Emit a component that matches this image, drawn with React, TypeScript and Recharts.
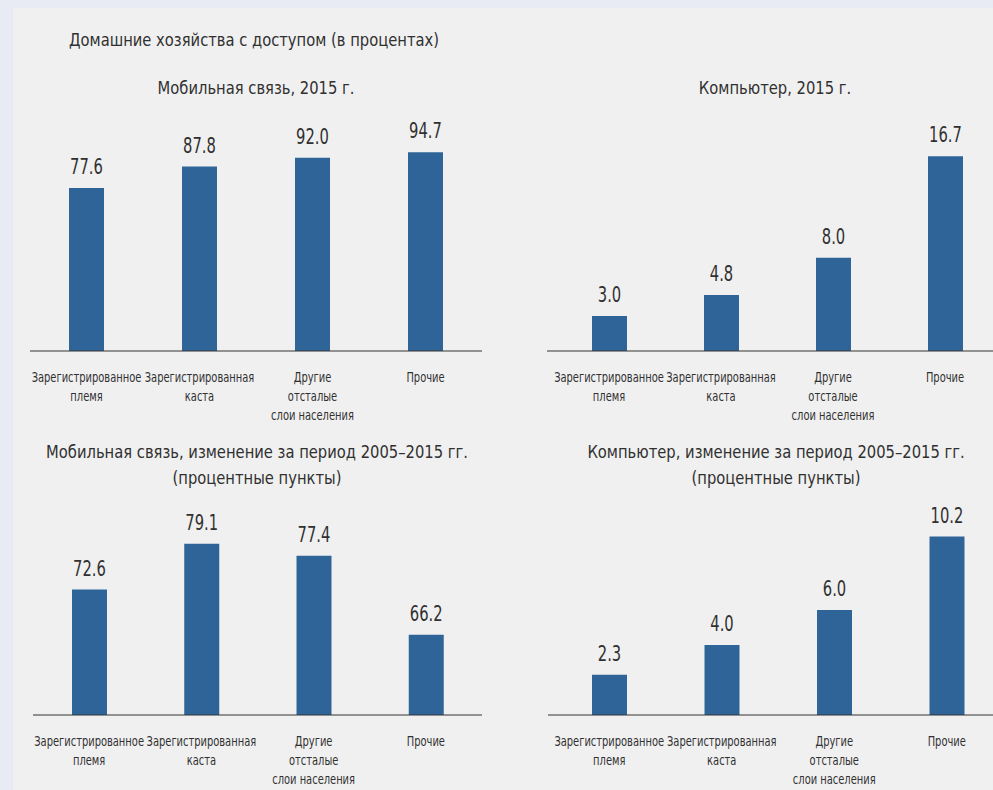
import { Bar, BarChart, LabelList, XAxis, YAxis } from "recharts";

// Категории и значения
const categories = ["reg_tribe", "reg_caste", "other_backward", "others"];
const categoryLines: string[][] = [
  ["Зарегистрированное", "племя"],
  ["Зарегистрированная", "каста"],
  ["Другие", "отсталые", "слои населения"],
  ["Прочие"],
];
const mobile2015 = [77.6, 87.8, 92.0, 94.7];
const computer2015 = [3.0, 4.8, 8.0, 16.7];
const mobileChange = [72.6, 79.1, 77.4, 66.2];
const computerChange = [2.3, 4.0, 6.0, 10.2];

// узкого шрифта нет — сжимаем по горизонтали
const FONT = '"DejaVu Sans Condensed", "DejaVu Sans", sans-serif';
const BAR = "#2f6499";
const TEXT = "#303030";

function toRows(values: number[]) {
  return categories.map((c, i) => ({ cat: i, key: c, value: values[i] }));
}

function CatTick(props: any) {
  const { x, y, payload } = props;
  const lines = categoryLines[payload.value] ?? [];
  return (
    <g transform={`translate(${x} ${y}) scale(0.76 1)`}>
      <text x={0} y={0} textAnchor="middle" fill={TEXT} fontSize={14.5} fontFamily={FONT}>
        {lines.map((l, i) => (
          <tspan key={i} x={0} dy={i === 0 ? 23 : 19}>
            {l}
          </tspan>
        ))}
      </text>
    </g>
  );
}

function ValueLabel(props: any) {
  const { x, y, width, value } = props;
  return (
    <g transform={`translate(${x + width / 2} ${y - 14}) scale(0.78 1)`}>
      <text x={0} y={0} textAnchor="middle" fill={TEXT} fontSize={21} fontFamily={FONT}>
        {Number(value).toFixed(1)}
      </text>
    </g>
  );
}

function Panel({
  values,
  domain,
  left,
  top,
  width,
  padLeft,
}: {
  values: number[];
  domain: [number, number];
  left: number;
  top: number;
  width: number;
  padLeft: number;
}) {
  // top = y верха области построения; высота 210
  return (
    <div style={{ position: "absolute", left, top: top - 40 }}>
      <BarChart width={width} height={40 + 210 + 80} data={toRows(values)} margin={{ top: 40, right: 0, bottom: 0, left: 0 }}>
        <XAxis
          dataKey="cat"
          tick={<CatTick />}
          tickLine={false}
          axisLine={{ stroke: "#333", strokeWidth: 1 }}
          height={80}
          interval={0}
          padding={{ left: padLeft, right: 0 }}
        />
        <YAxis hide domain={domain} allowDataOverflow />
        <Bar dataKey="value" fill={BAR} barSize={35} isAnimationActive={false}>
          <LabelList dataKey="value" content={<ValueLabel />} />
        </Bar>
      </BarChart>
    </div>
  );
}

function Title({ cx, y, lines }: { cx: number; y: number; lines: string[] }) {
  return (
    <div
      style={{
        position: "absolute",
        left: cx - 300,
        width: 600,
        top: y,
        textAlign: "center",
        fontFamily: FONT,
        fontSize: 18,
        lineHeight: "26px",
        color: TEXT,
        transform: "scaleX(0.91)",
        transformOrigin: "center",
      }}
    >
      {lines.map((l, i) => (
        <div key={i}>{l}</div>
      ))}
    </div>
  );
}

export default function App() {
  return (
    <div style={{ position: "fixed", left: 0, top: 0, width: 993, height: 790, overflow: "hidden", background: "#e8ebf4" }}>
      <div style={{ position: "absolute", left: 13, top: 8, right: 0, bottom: 0, background: "#f0f0f0" }} />
      <Title cx={254} y={27} lines={["Домашние хозяйства с доступом (в процентах)"]} />
      <Title cx={256} y={75} lines={["Мобильная связь, 2015 г."]} />
      <Title cx={775} y={75} lines={["Компьютер, 2015 г."]} />
      <Title cx={257} y={439} lines={["Мобильная связь, изменение за период 2005–2015 гг.", "(процентные пункты)"]} />
      <Title cx={776} y={439} lines={["Компьютер, изменение за период 2005–2015 гг.", "(процентные пункты)"]} />

      <Panel values={mobile2015} domain={[0, 100]} left={30} top={141} width={452} padLeft={0} />
      <Panel values={computer2015} domain={[0, 18]} left={547} top={141} width={454} padLeft={6} />
      <Panel values={mobileChange} domain={[54.8, 84.6]} left={33} top={504.5} width={449} padLeft={0} />
      <Panel values={computerChange} domain={[0, 12]} left={548} top={504.5} width={455} padLeft={5} />
    </div>
  );
}
